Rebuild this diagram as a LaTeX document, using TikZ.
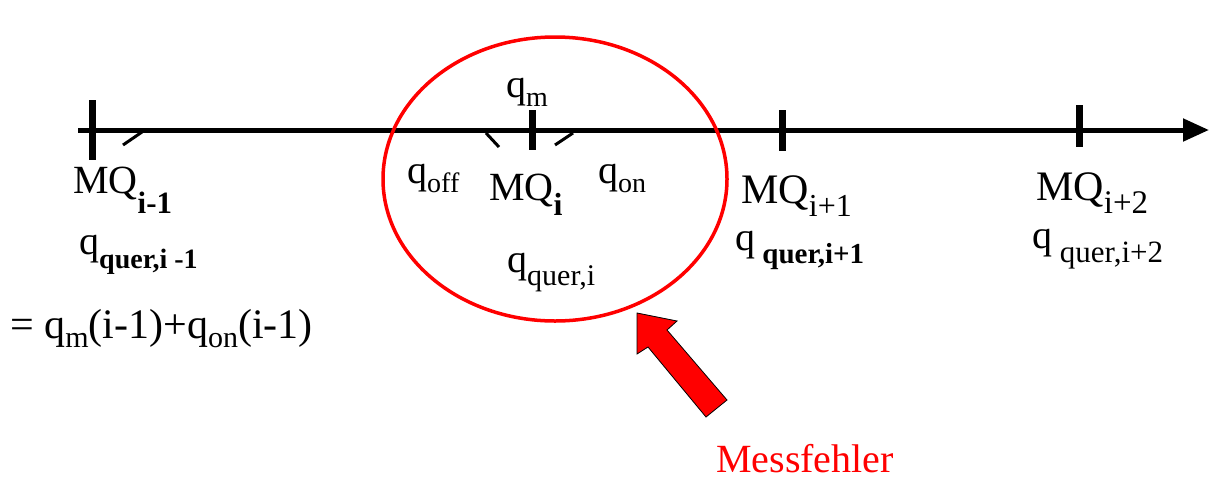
\documentclass[tikz,border=0pt]{standalone}
\usepackage{fontspec}
\setmainfont{Liberation Serif}
\usetikzlibrary{arrows.meta}
\newcommand\msub[3][28]{\raisebox{-#2pt}{\fontsize{#1}{#1}\selectfont #3}}
\begin{document}
\begin{tikzpicture}[x=1pt,y=-1pt,
  lbl/.style={anchor=base west,inner sep=0pt,font=\fontsize{40}{40}\selectfont},
  biglbl/.style={lbl,font=\fontsize{42}{42}\selectfont},
  axisline/.style={line width=5pt,-{Triangle[length=26pt,width=22pt]}},
  tick/.style={line width=7pt},
  flow/.style={line width=3pt},
  errring/.style={draw=red,line width=3.5pt},
  blockarrow/.style={fill=red,draw=black,line width=0.8pt,line join=miter}]
\useasboundingbox (0,0) rectangle (1209,480);
% axis
\coordinate (a0) at (78,130);
\coordinate (a1) at (1209,130);
\draw[axisline] (a0) -- (a1);
% ticks
\coordinate (t1a) at (92,100); \coordinate (t1b) at (92,160);
\coordinate (t2a) at (532,110); \coordinate (t2b) at (532,150);
\coordinate (t3a) at (782,110); \coordinate (t3b) at (782,151);
\coordinate (t4a) at (1079,105); \coordinate (t4b) at (1079,147);
\draw[tick] (t1a) -- (t1b);
\draw[tick] (t2a) -- (t2b);
\draw[tick] (t3a) -- (t3b);
\draw[tick] (t4a) -- (t4b);
% small slanted flow marks
\coordinate (f1a) at (142,132); \coordinate (f1b) at (123,145);
\coordinate (f2a) at (486,133); \coordinate (f2b) at (499,147);
\coordinate (f3a) at (573,133); \coordinate (f3b) at (555,145);
\draw[flow] (f1a) -- (f1b);
\draw[flow] (f2a) -- (f2b);
\draw[flow] (f3a) -- (f3b);
% labels
\node[lbl] (mq1) at (73,193) {MQ\msub[31]{20}{\bfseries i-1}};
\node[lbl] (qq1) at (79,254) {q\msub{14}{\bfseries quer,i -1}};
\node[biglbl] (eq) at (10,338) {= q\msub[30]{9}{m}(i-1)+q\msub[30]{9}{on}(i-1)};
\node[lbl] (qm) at (506,97) {q\msub{9}{m}};
\node[lbl] (qoff) at (407,183) {q\msub{9}{off}};
\node[lbl] (mqi) at (489,200) {MQ\msub[32]{15}{\bfseries i}};
\node[lbl] (qon) at (598,183) {q\msub{9}{on}};
\node[lbl] (qqi) at (507,272) {q\msub[30]{13}{quer,i}};
\node[biglbl] (mq3) at (741,203) {MQ\msub[32]{13}{i+1}};
\node[lbl] (qq3) at (735,250) {q\msub[29]{13}{\bfseries\ quer,i+1}};
\node[biglbl] (mq4) at (1036,200) {MQ\msub[33]{13}{i+2}};
\node[lbl] (qq4) at (1032,248) {q\msub[31]{14}{\ quer,i+2}};
% error ring
\draw[errring] (555,179) ellipse [x radius=172, y radius=142];
% block arrow
\draw[blockarrow] (637,313) -- (677,321) -- (667,330) -- (727,400) -- (706,417) -- (648,347) -- (637,354) -- cycle;
\node[lbl,text=red] (mf) at (716,472) {Messfehler};
\end{tikzpicture}
\end{document}
